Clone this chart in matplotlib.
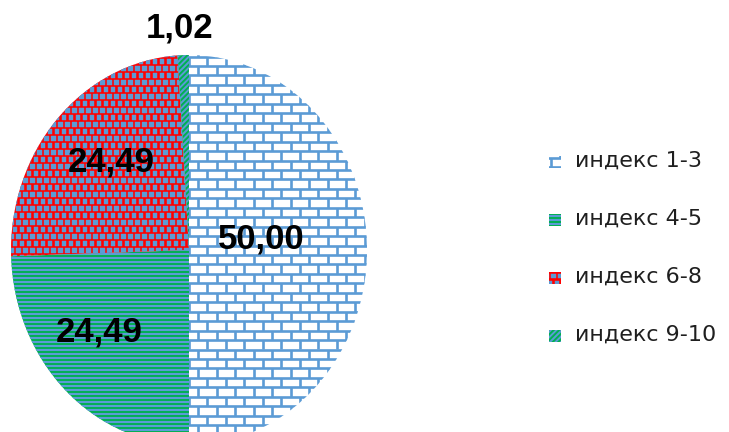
import numpy as np
import matplotlib
matplotlib.use("Agg")
import matplotlib.pyplot as plt
from matplotlib.collections import LineCollection, PolyCollection
from matplotlib.patches import Rectangle
from matplotlib.transforms import IdentityTransform

# ---- data -------------------------------------------------------------
labels = ["индекс 1-3", "индекс 4-5", "индекс 6-8", "индекс 9-10"]
values = [50.00, 24.49, 24.49, 1.02]

# ---- style ------------------------------------------------------------
BLUE = "#5B9BD5"
GREEN = "#00B050"
RED = "#FF0000"
base_colors = ["white", GREEN, RED, GREEN]
patterns = ["brick", "hlines", "dots", "diag"]

W, H = 729, 432
fig = plt.figure(figsize=(W / 100, H / 100), dpi=100)
fig.patch.set_facecolor("white")

# pie drawn in an axes whose box is the pie's bounding ellipse (pixels)
cx, cy, rx, ry = 189, 250, 178, 195
ax = fig.add_axes([(cx - rx) / W, (H - (cy + ry)) / H, 2 * rx / W, 2 * ry / H])
wedges, _ = ax.pie(values, startangle=90, counterclock=False,
                   colors=base_colors, wedgeprops=dict(linewidth=0))
ax.set_aspect("auto")
ax.set_xlim(-1, 1)
ax.set_ylim(-1, 1)
ax.axis("off")

ID = IdentityTransform()


def brick_segments(x0, y0, x1, y1, px0, py0, bw=18.5, bh=9.45):
    """Brick-wall lines in display pixels (y measured from the top)."""
    segs = []
    k0 = int(np.floor((y0 - py0) / bh)) - 1
    k1 = int(np.ceil((y1 - py0) / bh)) + 1
    for k in range(k0, k1):
        yt = py0 + k * bh
        segs.append([(x0, H - yt), (x1, H - yt)])
        off = 0 if k % 2 == 0 else bw / 2
        j0 = int(np.floor((x0 - px0) / bw)) - 1
        j1 = int(np.ceil((x1 - px0) / bw)) + 1
        for j in range(j0, j1):
            x = px0 + off + j * bw
            segs.append([(x, H - yt), (x, H - (yt + bh))])
    return segs


def hline_segments(x0, y0, x1, y1, py0, step=4.0):
    segs = []
    y = py0 + np.floor((y0 - py0) / step) * step
    while y <= y1 + step:
        segs.append([(x0, H - y), (x1, H - y)])
        y += step
    return segs


def diag_segments(x0, y0, x1, y1, step=5.5):
    segs = []
    span = (x1 - x0) + (y1 - y0)
    c = -span
    while c <= span:
        segs.append([(x0 + c, H - y1), (x0 + c + (y1 - y0), H - y0)])
        c += step
    return segs


def dot_polys(x0, y0, x1, y1, px0, py0, step=7.0, size=4.5):
    polys = []
    k0 = int(np.floor((y0 - py0) / step)) - 1
    k1 = int(np.ceil((y1 - py0) / step)) + 1
    for k in range(k0, k1):
        yt = py0 + k * step
        off = 0 if k % 2 == 0 else step / 2
        j0 = int(np.floor((x0 - px0) / step)) - 1
        j1 = int(np.ceil((x1 - px0) / step)) + 1
        for j in range(j0, j1):
            x = px0 + off + j * step
            polys.append([(x, H - yt), (x + size, H - yt),
                          (x + size, H - yt - size), (x, H - yt - size)])
    return polys


def add_pattern(kind, clip, box, phase):
    x0, y0, x1, y1 = box
    px0, py0 = phase
    if kind == "brick":
        art = LineCollection(brick_segments(x0, y0, x1, y1, px0, py0),
                             colors=BLUE, linewidths=1.9, transform=ID)
    elif kind == "hlines":
        art = LineCollection(hline_segments(x0, y0, x1, y1, py0),
                             colors=BLUE, linewidths=1.5, transform=ID)
    elif kind == "diag":
        art = LineCollection(diag_segments(x0, y0, x1, y1),
                             colors=BLUE, linewidths=1.4, transform=ID)
    else:
        art = PolyCollection(dot_polys(x0, y0, x1, y1, px0, py0),
                             facecolors=BLUE, edgecolors=BLUE,
                             linewidths=0.3, transform=ID)
    art.set_clip_path(clip)
    fig.add_artist(art)


# textures inside the pie slices
pie_box = (cx - rx - 5, cy - ry - 5, cx + rx + 5, cy + ry + 5)
for w, kind in zip(wedges, patterns):
    add_pattern(kind, w, pie_box, (198.0, 66.0))

# value labels
label_pos = [(261, 239), (99, 332), (111, 162), (180, 28)]
for v, (x, y) in zip(values, label_pos):
    fig.text(x / W, (H - y) / H, f"{v:.2f}".replace(".", ","),
             ha="center", va="center", fontsize=25, fontweight="bold",
             family="Liberation Sans", color="black")

# legend
leg_y = [162, 220, 278, 336]
for lab, col, kind, y in zip(labels, base_colors, patterns, leg_y):
    bx0, by0, bx1, by1 = 549, y - 6, 561, y + 6
    rect = Rectangle((bx0, H - by1), bx1 - bx0, by1 - by0, transform=ID,
                     facecolor=col, edgecolor="none")
    fig.add_artist(rect)
    add_pattern(kind, rect, (bx0 - 2, by0 - 2, bx1 + 2, by1 + 2),
                (551.0, by0 + 1.5))
    fig.text(575 / W, (H - y + 1) / H, lab, ha="left", va="center",
             fontsize=16, family="DejaVu Sans", color="#1f1f1f")

fig.savefig("out.png", dpi=100, facecolor="white")
